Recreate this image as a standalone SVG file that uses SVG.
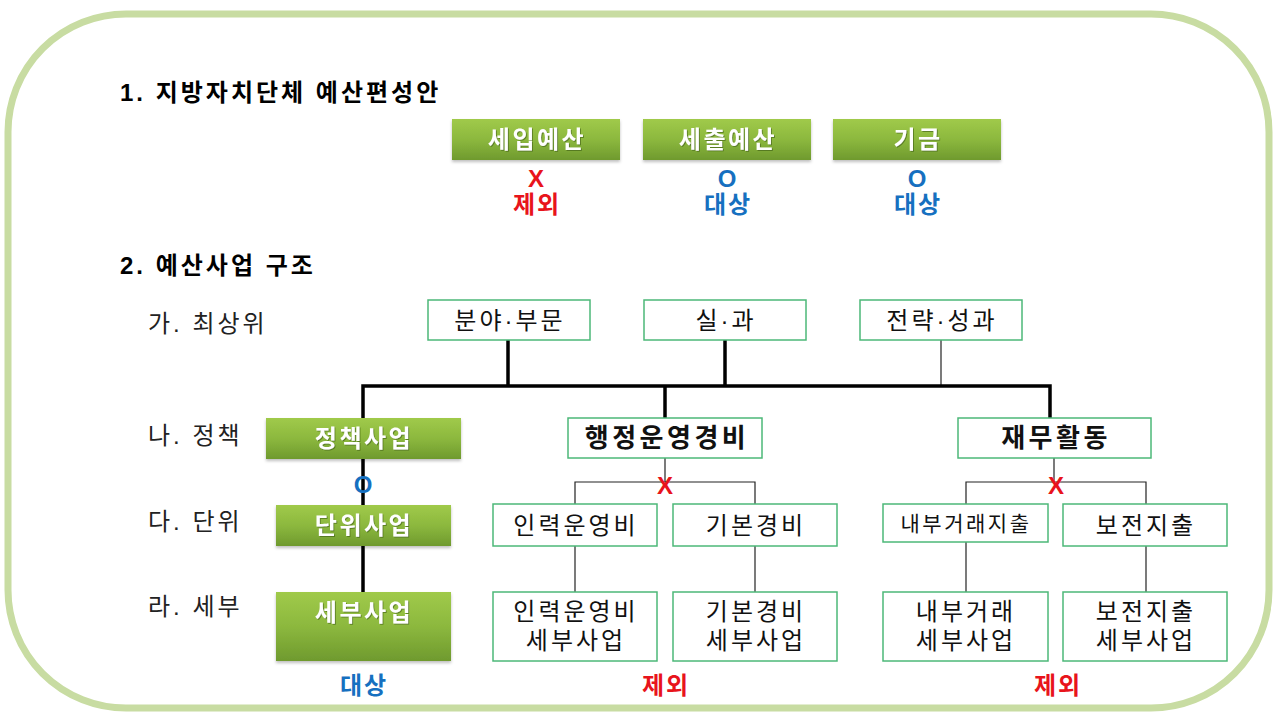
<svg xmlns="http://www.w3.org/2000/svg" width="1275" height="713" viewBox="0 0 1275 713">
<defs>
<linearGradient id="gg" x1="0" y1="0" x2="0" y2="1">
<stop offset="0" stop-color="#a0ca4a"/>
<stop offset="0.5" stop-color="#8cb83e"/>
<stop offset="1" stop-color="#6f9a2e"/>
</linearGradient>
<filter id="sh" x="-5%" y="-10%" width="110%" height="130%">
<feDropShadow dx="0" dy="2" stdDeviation="1.5" flood-color="#000" flood-opacity="0.25"/>
</filter>
<filter id="ts" x="-5%" y="-10%" width="110%" height="130%">
<feDropShadow dx="1" dy="1" stdDeviation="0.6" flood-color="#3d5a14" flood-opacity="0.6"/>
</filter>
</defs>
<style>
text{font-family:"Liberation Sans","Noto Sans CJK KR",sans-serif;}
.h{font-size:24px;font-weight:bold;fill:#000;letter-spacing:3px;}
.lbl{font-size:24px;fill:#222;letter-spacing:3px;}
.gbox{fill:url(#gg);filter:url(#sh);}
.gt{font-size:24px;font-weight:bold;fill:#fff;text-anchor:middle;filter:url(#ts);letter-spacing:2.5px;}
.wbox{fill:#fff;stroke:#4cb878;stroke-width:1.5;}
.wt{font-size:24px;fill:#111;text-anchor:middle;letter-spacing:3px;}
.wtb{font-size:26px;font-weight:bold;fill:#111;text-anchor:middle;letter-spacing:3.5px;}
.red{fill:#e8141b;font-weight:bold;font-size:24px;text-anchor:middle;letter-spacing:2px;}
.blue{fill:#1670c0;font-weight:bold;font-size:24px;text-anchor:middle;letter-spacing:2px;}
.thick{stroke:#000;stroke-width:3.5;fill:none;}
.thin{stroke:#222;stroke-width:1.2;fill:none;}
</style>
<rect width="1275" height="713" fill="#fff"/>
<rect x="8" y="14" width="1261" height="694" rx="118" ry="118" fill="none" stroke="#c8dca2" stroke-width="7"/>

<text class="h" x="120" y="101">1. 지방자치단체 예산편성안</text>

<g id="n-seip">
<rect class="gbox" x="452" y="119" width="168" height="41"/>
<text class="gt" x="537" y="148">세입예산</text>
</g>
<text class="red" x="537" y="187">X</text>
<text class="red" x="537" y="213">제외</text>

<g id="n-sechul">
<rect class="gbox" x="643" y="119" width="168" height="41"/>
<text class="gt" x="728" y="148">세출예산</text>
</g>
<text class="blue" x="728" y="187">O</text>
<text class="blue" x="728" y="213">대상</text>

<g id="n-gigeum">
<rect class="gbox" x="833" y="119" width="168" height="41"/>
<text class="gt" x="918" y="148">기금</text>
</g>
<text class="blue" x="918" y="187">O</text>
<text class="blue" x="918" y="213">대상</text>

<text class="h" x="120" y="274">2. 예산사업 구조</text>

<text class="lbl" x="148" y="332">가. 최상위</text>
<text class="lbl" x="148" y="444">나. 정책</text>
<text class="lbl" x="148" y="530">다. 단위</text>
<text class="lbl" x="148" y="615">라. 세부</text>

<g id="connectors">
<line class="thick" x1="508" y1="340" x2="508" y2="386"/>
<line class="thick" x1="725" y1="340" x2="725" y2="386"/>
<line class="thin" x1="941" y1="340" x2="941" y2="386"/>
<polyline class="thick" points="363,418 363,386 1050,386 1050,418"/>
<line class="thick" x1="665" y1="386" x2="665" y2="418"/>
<line class="thick" x1="363" y1="459" x2="363" y2="505"/>
<line class="thick" x1="363" y1="546" x2="363" y2="592"/>
<line class="thin" x1="665" y1="458" x2="665" y2="482"/>
<polyline class="thin" points="575,504 575,482 755,482 755,504"/>
<line class="thin" x1="575" y1="546" x2="575" y2="592"/>
<line class="thin" x1="755" y1="546" x2="755" y2="592"/>
<line class="thin" x1="1054" y1="458" x2="1054" y2="482"/>
<polyline class="thin" points="966,504 966,482 1146,482 1146,504"/>
<line class="thin" x1="966" y1="542" x2="966" y2="592"/>
<line class="thin" x1="1146" y1="546" x2="1146" y2="592"/>
</g>
<text class="blue" x="364" y="493">O</text>
<text class="red" x="666" y="494">X</text>
<text class="red" x="1057" y="494">X</text>

<g id="n-bunya">
<rect class="wbox" x="428" y="300" width="162" height="40"/>
<text class="wt" x="510" y="329">분야·부문</text>
</g>
<g id="n-silgwa">
<rect class="wbox" x="644" y="300" width="162" height="40"/>
<text class="wt" x="726" y="329">실·과</text>
</g>
<g id="n-jeonryak">
<rect class="wbox" x="860" y="300" width="162" height="40"/>
<text class="wt" x="942" y="329">전략·성과</text>
</g>

<g id="n-jeongchaek">
<rect class="gbox" x="266" y="418" width="195" height="41"/>
<text class="gt" x="364" y="447">정책사업</text>
</g>
<g id="n-danwi">
<rect class="gbox" x="276" y="505" width="175" height="41"/>
<text class="gt" x="364" y="534">단위사업</text>
</g>
<g id="n-sebu">
<rect class="gbox" x="276" y="592" width="175" height="69"/>
<text class="gt" x="364" y="621">세부사업</text>
</g>
<text class="blue" x="364" y="694">대상</text>

<g id="n-haengjeong">
<rect class="wbox" x="568" y="418" width="194" height="40"/>
<text class="wtb" x="667" y="447">행정운영경비</text>
</g>
<g id="n-jaemu">
<rect class="wbox" x="958" y="418" width="193" height="40"/>
<text class="wtb" x="1056" y="447">재무활동</text>
</g>

<g id="n-inryeok">
<rect class="wbox" x="493" y="504" width="164" height="42"/>
<text class="wt" x="576" y="534">인력운영비</text>
</g>
<g id="n-gibon">
<rect class="wbox" x="673" y="504" width="164" height="42"/>
<text class="wt" x="756" y="534">기본경비</text>
</g>
<g id="n-inryeok-sebu">
<rect class="wbox" x="493" y="592" width="164" height="69"/>
<text class="wt" x="576" y="620">인력운영비</text>
<text class="wt" x="576" y="649">세부사업</text>
</g>
<g id="n-gibon-sebu">
<rect class="wbox" x="673" y="592" width="164" height="69"/>
<text class="wt" x="756" y="620">기본경비</text>
<text class="wt" x="756" y="649">세부사업</text>
</g>
<text class="red" x="666" y="694">제외</text>

<g id="n-naebu">
<rect class="wbox" x="883" y="504" width="165" height="38"/>
<text class="wt" x="966" y="531" style="font-size:21px;letter-spacing:2.5px">내부거래지출</text>
</g>
<g id="n-bojeon">
<rect class="wbox" x="1063" y="504" width="164" height="42"/>
<text class="wt" x="1146" y="534">보전지출</text>
</g>
<g id="n-naebu-sebu">
<rect class="wbox" x="883" y="592" width="165" height="69"/>
<text class="wt" x="966" y="620">내부거래</text>
<text class="wt" x="966" y="649">세부사업</text>
</g>
<g id="n-bojeon-sebu">
<rect class="wbox" x="1063" y="592" width="164" height="69"/>
<text class="wt" x="1146" y="620">보전지출</text>
<text class="wt" x="1146" y="649">세부사업</text>
</g>
<text class="red" x="1058" y="694">제외</text>
</svg>
